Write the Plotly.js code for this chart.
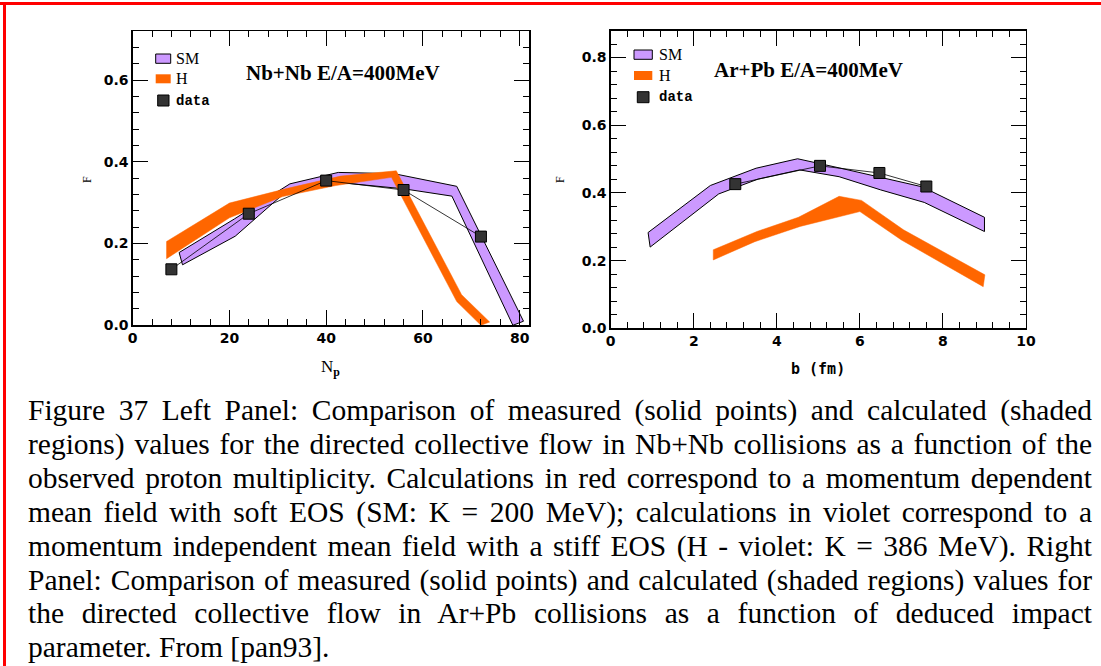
<!DOCTYPE html>
<html>
<head>
<meta charset="utf-8">
<script src="https://cdn.plot.ly/plotly-3.0.1.min.js"></script>
<style>
  html, body { margin: 0; padding: 0; background: #fff; }
  #wrap { position: relative; width: 1101px; height: 666px; overflow: hidden; background: #fff; }
  #chart { position: absolute; left: 0; top: 0; width: 1101px; height: 666px; }
  #borderTop { position: absolute; left: 0; top: 2px; width: 1101px; height: 3px; background: #ff0000; }
  #borderLeft { position: absolute; left: 3px; top: 2px; width: 3px; height: 664px; background: #ff0000; }
  #caption { position: absolute; left: 28px; top: 394px; width: 1064px;
             font-family: "Liberation Serif", "Times New Roman", serif; font-size: 29.5px;
             line-height: 33.9px; color: #000; }
  #caption .ln { text-align: justify; text-align-last: justify; white-space: nowrap; }
  #caption .ln.last { text-align-last: left; }
</style>
</head>
<body>
<div id="wrap">
  <div id="chart"></div>
  <div id="borderTop"></div>
  <div id="borderLeft"></div>
  <div id="caption"></div>
</div>
<script>
// ---------------- data ----------------
// Left panel: Nb+Nb, F vs N_p
const leftSmUpperX = [9.6, 21, 32.5, 42.5, 54, 67, 80.8];
const leftSmUpperY = [0.178, 0.26, 0.346, 0.374, 0.371, 0.340, 0.010];
const leftSmLowerX = [10.3, 21.2, 32, 42, 56, 66, 78.6];
const leftSmLowerY = [0.148, 0.218, 0.330, 0.350, 0.334, 0.316, 0.0];

const leftHUpperX = [7, 20, 32, 43, 54.5, 68, 73.8];
const leftHUpperY = [0.205, 0.299, 0.335, 0.365, 0.378, 0.075, 0.008];
const leftHLowerX = [7, 20, 31, 42, 53.5, 67, 72];
const leftHLowerY = [0.163, 0.263, 0.315, 0.342, 0.362, 0.058, 0.0];

const leftDataX = [8, 24, 40, 56, 72];
const leftDataY = [0.137, 0.273, 0.354, 0.331, 0.217];

// Right panel: Ar+Pb, F vs b (fm)
const rightSmUpperX = [0.9, 2.4, 3.5, 4.5, 5.5, 6.5, 7.5, 9.0];
const rightSmUpperY = [0.283, 0.422, 0.473, 0.501, 0.474, 0.447, 0.418, 0.328];
const rightSmLowerX = [0.95, 2.6, 3.55, 4.55, 5.5, 6.5, 7.55, 9.0];
const rightSmLowerY = [0.240, 0.397, 0.441, 0.468, 0.448, 0.409, 0.372, 0.286];

const rightHUpperX = [2.47, 3.52, 4.52, 5.5, 6.04, 7.05, 9.01];
const rightHUpperY = [0.232, 0.286, 0.328, 0.390, 0.378, 0.291, 0.158];
const rightHLowerX = [2.47, 3.47, 4.56, 6.0, 7.0, 8.97];
const rightHLowerY = [0.202, 0.256, 0.301, 0.345, 0.261, 0.123];

const rightDataX = [3.0, 5.04, 6.47, 7.6];
const rightDataY = [0.426, 0.480, 0.459, 0.419];

// labels
const panelTitles = ["Nb+Nb E/A=400MeV", "Ar+Pb E/A=400MeV"];
const legendLabels = ["SM", "H", "data"];
const xTitles = ["N<sub><b>p</b></sub>", "b (fm)"];
const yTitle = "F";
const captionLines = [
  "Figure 37 Left Panel: Comparison of measured (solid points) and calculated (shaded",
  "regions) values for the directed collective flow in Nb+Nb collisions as a function of the",
  "observed proton multiplicity. Calculations in red correspond to a momentum dependent",
  "mean field with soft EOS (SM: K = 200 MeV); calculations in violet correspond to a",
  "momentum independent mean field with a stiff EOS (H - violet: K = 386 MeV). Right",
  "Panel: Comparison of measured (solid points) and calculated (shaded regions) values for",
  "the directed collective flow in Ar+Pb collisions as a function of deduced impact",
  "parameter. From [pan93]."
];

// ---------------- styling ----------------
const VIOLET = '#cc99ff';
const ORANGE = '#ff6600';
const DARK = '#333333';
const W = 1101, H = 666;
const px = v => v / W;
const py = v => 1 - v / H;

function band(ux, uy, lx, ly, color, outline, xa, ya) {
  return {
    type: 'scatter', mode: 'lines', xaxis: xa, yaxis: ya,
    x: ux.concat(lx.slice().reverse(), [ux[0]]),
    y: uy.concat(ly.slice().reverse(), [uy[0]]),
    fill: 'toself', fillcolor: color,
    line: outline ? {color: '#000', width: 1} : {color: color, width: 0.5},
    hoverinfo: 'skip'
  };
}
function dataTrace(x, y, xa, ya) {
  return {
    type: 'scatter', mode: 'lines+markers', xaxis: xa, yaxis: ya, x: x, y: y,
    line: {color: '#000', width: 0.8},
    marker: {symbol: 'square', size: 11, color: DARK, line: {color: '#000', width: 1}},
  };
}

const traces = [
  band(leftSmUpperX, leftSmUpperY, leftSmLowerX, leftSmLowerY, VIOLET, true, 'x', 'y'),
  band(leftHUpperX, leftHUpperY, leftHLowerX, leftHLowerY, ORANGE, false, 'x', 'y'),
  dataTrace(leftDataX, leftDataY, 'x', 'y'),
  band(rightSmUpperX, rightSmUpperY, rightSmLowerX, rightSmLowerY, VIOLET, true, 'x2', 'y2'),
  band(rightHUpperX, rightHUpperY, rightHLowerX, rightHLowerY, ORANGE, false, 'x2', 'y2'),
  dataTrace(rightDataX, rightDataY, 'x2', 'y2'),
];

const tickFont = {family: 'DejaVu Sans', size: 14, color: '#000', weight: 'bold'};
function axis(domain, range, dtick, mdtick, fmt, anchor) {
  return {
    domain: domain, range: range, anchor: anchor, dtick: dtick, tick0: 0,
    tickformat: fmt, ticks: 'inside', ticklen: 15, tickwidth: 1, tickcolor: '#000',
    showline: true, linewidth: 1.3, linecolor: '#000', mirror: 'ticks',
    showgrid: false, zeroline: false, tickfont: tickFont,
    minor: {dtick: mdtick, tick0: 0, ticks: 'inside', ticklen: 6, tickwidth: 1, tickcolor: '#000', showgrid: false},
    fixedrange: true
  };
}

const layout = {
  width: W, height: H, margin: {l: 0, r: 0, t: 0, b: 0},
  paper_bgcolor: 'rgba(0,0,0,0)', plot_bgcolor: '#fff', showlegend: false,
  xaxis: axis([px(132.7), px(529.3)], [0, 82], 20, 4, 'd', 'y'),
  yaxis: axis([py(325.3), py(31)], [0, 0.72], 0.2, 0.04, '.1f', 'x'),
  xaxis2: axis([px(610.7), px(1026)], [0, 10], 2, 0.4, 'd', 'y2'),
  yaxis2: axis([py(328.3), py(30.5)], [0, 0.88], 0.2, 0.04, '.1f', 'x2'),
  shapes: [], annotations: []
};

// legends (custom swatches)
const legends = [
  {sm: [155.7, 54, 170.7, 63.3], h: [155.7, 74.3, 170.7, 83.3], d: [157.7, 95, 169, 106], tx: 174},
  {sm: [634, 50, 652.3, 59.3], h: [634, 71, 652.3, 80], d: [637.3, 91.7, 649, 102.7], tx: 657}
];
legends.forEach(L => {
  layout.shapes.push({type: 'rect', xref: 'paper', yref: 'paper', x0: px(L.sm[0]), x1: px(L.sm[2]), y0: py(L.sm[3]), y1: py(L.sm[1]),
    fillcolor: VIOLET, line: {color: '#000', width: 1}});
  layout.shapes.push({type: 'rect', xref: 'paper', yref: 'paper', x0: px(L.h[0]), x1: px(L.h[2]), y0: py(L.h[3]), y1: py(L.h[1]),
    fillcolor: ORANGE, line: {width: 0}});
  layout.shapes.push({type: 'rect', xref: 'paper', yref: 'paper', x0: px(L.d[0]), x1: px(L.d[2]), y0: py(L.d[3]), y1: py(L.d[1]),
    fillcolor: DARK, line: {color: '#000', width: 1}});
  const ys = [(L.sm[1] + L.sm[3]) / 2, (L.h[1] + L.h[3]) / 2, (L.d[1] + L.d[3]) / 2];
  const fonts = [
    {family: 'Liberation Serif', size: 16, color: '#000'},
    {family: 'Liberation Serif', size: 16, color: '#000'},
    {family: 'Liberation Mono', size: 14, color: '#000', weight: 'bold'}
  ];
  legendLabels.forEach((t, i) => {
    layout.annotations.push({text: t, xref: 'paper', yref: 'paper', x: px(L.tx), y: py(ys[i]),
      xanchor: 'left', yanchor: 'middle', showarrow: false, font: fonts[i]});
  });
});

// panel titles
[[342.5, 73], [808, 70]].forEach((p, i) => {
  layout.annotations.push({text: '<b>' + panelTitles[i] + '</b>', xref: 'paper', yref: 'paper', x: px(p[0]), y: py(p[1]),
    xanchor: 'center', yanchor: 'middle', showarrow: false,
    font: {family: 'Liberation Serif', size: 21, color: '#000'}});
});
// axis titles
layout.annotations.push({text: xTitles[0], xref: 'paper', yref: 'paper', x: px(330), y: py(368),
  xanchor: 'center', yanchor: 'middle', showarrow: false, font: {family: 'Liberation Serif', size: 17, color: '#000'}});
layout.annotations.push({text: xTitles[1], xref: 'paper', yref: 'paper', x: px(818), y: py(369),
  xanchor: 'center', yanchor: 'middle', showarrow: false, font: {family: 'DejaVu Sans Mono', size: 15, color: '#000', weight: 'bold'}});
[[87, 180], [560, 180]].forEach(p => {
  layout.annotations.push({text: yTitle, xref: 'paper', yref: 'paper', x: px(p[0]), y: py(p[1]),
    xanchor: 'center', yanchor: 'middle', textangle: -90, showarrow: false,
    font: {family: 'Liberation Serif', size: 12, color: '#000'}});
});

Plotly.newPlot('chart', traces, layout, {staticPlot: true, displayModeBar: false});

// caption
const cap = document.getElementById('caption');
captionLines.forEach((t, i) => {
  const d = document.createElement('div');
  d.className = 'ln' + (i === captionLines.length - 1 ? ' last' : '');
  d.textContent = t;
  cap.appendChild(d);
});
</script>
</body>
</html>
